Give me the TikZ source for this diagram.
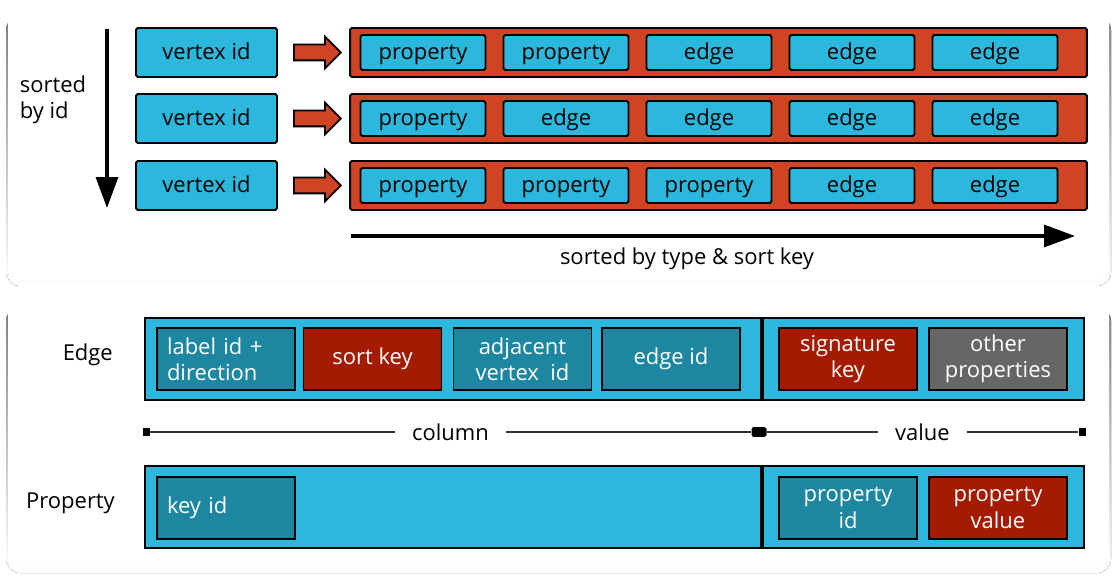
\documentclass[tikz,border=0pt]{standalone}
\usepackage{fontspec}
\setmainfont{Open Sans}
\usepackage{tikz}
\usetikzlibrary{arrows.meta,shapes.arrows}

\definecolor{cellblue}{HTML}{2BB8DC}
\definecolor{cellteal}{HTML}{1D86A0}
\definecolor{barred}{HTML}{D04426}
\definecolor{keyred}{HTML}{A51B00}
\definecolor{cellgray}{HTML}{666666}
\definecolor{shade}{HTML}{F3F4F7}

\tikzset{
  cell/.style={draw=black, line width=1.1pt, rounded corners=1pt, inner sep=0pt,
    font=\fontsize{12.5}{15}\selectfont, align=center},
  vbox/.style={cell, fill=cellblue, minimum width=2.82cm, minimum height=0.98cm,
    text height=1.9ex, text depth=0.5ex},
  bar/.style={cell, fill=barred, minimum width=14.74cm, minimum height=0.98cm},
  item/.style={cell, fill=cellblue, minimum width=2.5cm, minimum height=0.7cm,
    text height=1.9ex, text depth=0.5ex},
  record/.style={cell, fill=cellblue, minimum width=18.78cm, minimum height=1.64cm, rounded corners=0pt},
  field/.style={cell, text=white, minimum width=2.76cm, minimum height=1.24cm, rounded corners=0pt},
  fwd/.style={single arrow, draw=black, line width=1pt, fill=barred, minimum height=0.94cm,
    inner xsep=0pt, inner ysep=0.14cm, single arrow head extend=0.16cm},
  tag/.style={font=\fontsize{12.5}{15}\selectfont},
  tick/.style={fill=black, inner sep=0pt},
  card/.style={fill=white, rounded corners=6pt}
}

\begin{document}
\begin{tikzpicture}[x=0.02cm, y=-0.02cm]

    \useasboundingbox[fill=white] (0, 0) rectangle (1120, 584);

    \fill[shade, rounded corners=8pt] (6, 16) rectangle (1111, 286);
    \fill[shade, rounded corners=8pt] (6, 307) rectangle (1111, 573);
    \fill[card] (8, 12) rectangle (1109, 280);
    \fill[card] (8, 303) rectangle (1109, 567);

    \node[vbox] (v1) at (206.5, 52.5) {vertex id};
    \node[vbox] (v2) at (206.5, 118.5) {vertex id};
    \node[vbox] (v3) at (206.5, 185.5) {vertex id};

    \node[bar] (r1) at (718.5, 52.5) {};
    \node[bar] (r2) at (718.5, 118.5) {};
    \node[bar] (r3) at (718.5, 185.5) {};

    \node[fwd] (a1) at (313.5, 52.5) {};
    \node[fwd] (a2) at (313.5, 118.5) {};
    \node[fwd] (a3) at (313.5, 185.5) {};

    \foreach \y/\r [count=\i] in {52.5/{property,property,edge,edge,edge},
                                  118.5/{property,edge,edge,edge,edge},
                                  185.5/{property,property,property,edge,edge}} {
      \foreach \t [count=\j] in \r {
        \node[item] (c\i\j) at (423 + 143*\j - 143, \y) {\t};
      }
    }

    \node[tag, align=left] (s) at (53, 100) {sorted\\by id};
    \coordinate (s1) at (107, 29);
    \coordinate (s2) at (107, 208);
    \draw [line width=1.8pt, -{Triangle[length=0.62cm, width=0.44cm]}] (s1) to (s2);

    \coordinate (t1) at (351, 236);
    \coordinate (t2) at (1075, 236);
    \draw [line width=1.8pt, -{Triangle[length=0.62cm, width=0.44cm]}] (t1) to (t2);
    \node[tag] (t) at (687, 259) {sorted by type \& sort key};

    \node[record] (e) at (614.5, 359) {};
    \draw [line width=2pt] (e.north -| 762, 0) to (e.south -| 762, 0);
    \node[tag, anchor=east] (el) at (119, 355) {Edge};

    \node[field, fill=cellteal, align=left, text width=2.36cm] (f1) at (226, 359) {label id +\\direction};
    \node[field, fill=keyred] (f2) at (372.5, 359) {sort key};
    \node[field, fill=cellteal] (f3) at (522.5, 359) {adjacent\\vertex~~id};
    \node[field, fill=cellteal] (f4) at (671, 359) {edge id};
    \node[field, fill=keyred] (f5) at (848, 359) {signature\\key};
    \node[field, fill=cellgray] (f6) at (998, 359) {other\\properties};

    \node[tick, minimum width=0.14cm, minimum height=0.16cm] (cl) at (146, 432) {};
    \node[tick, minimum width=0.3cm, minimum height=0.2cm, rounded corners=1pt] (cm) at (759, 432) {};
    \node[tick, minimum width=0.14cm, minimum height=0.16cm] (cr) at (1082, 432) {};
    \draw [line width=1pt, draw=black!80] (cl) to node[tag, fill=white, inner xsep=10pt] {column} (cm);
    \draw [line width=1pt, draw=black!80] (cm) to node[tag, fill=white, inner xsep=10pt] {value} (cr);

    \node[record] (p) at (614.5, 507) {};
    \draw [line width=2pt] (p.north -| 762, 0) to (p.south -| 762, 0);
    \node[tag, anchor=east] (pl) at (121, 503) {Property};

    \node[field, fill=cellteal, align=left, text width=2.36cm] (g1) at (226, 508) {key id};
    \node[field, fill=cellteal] (g2) at (848, 508) {property\\id};
    \node[field, fill=keyred] (g3) at (998, 508) {property\\value};

\end{tikzpicture}
\end{document}
